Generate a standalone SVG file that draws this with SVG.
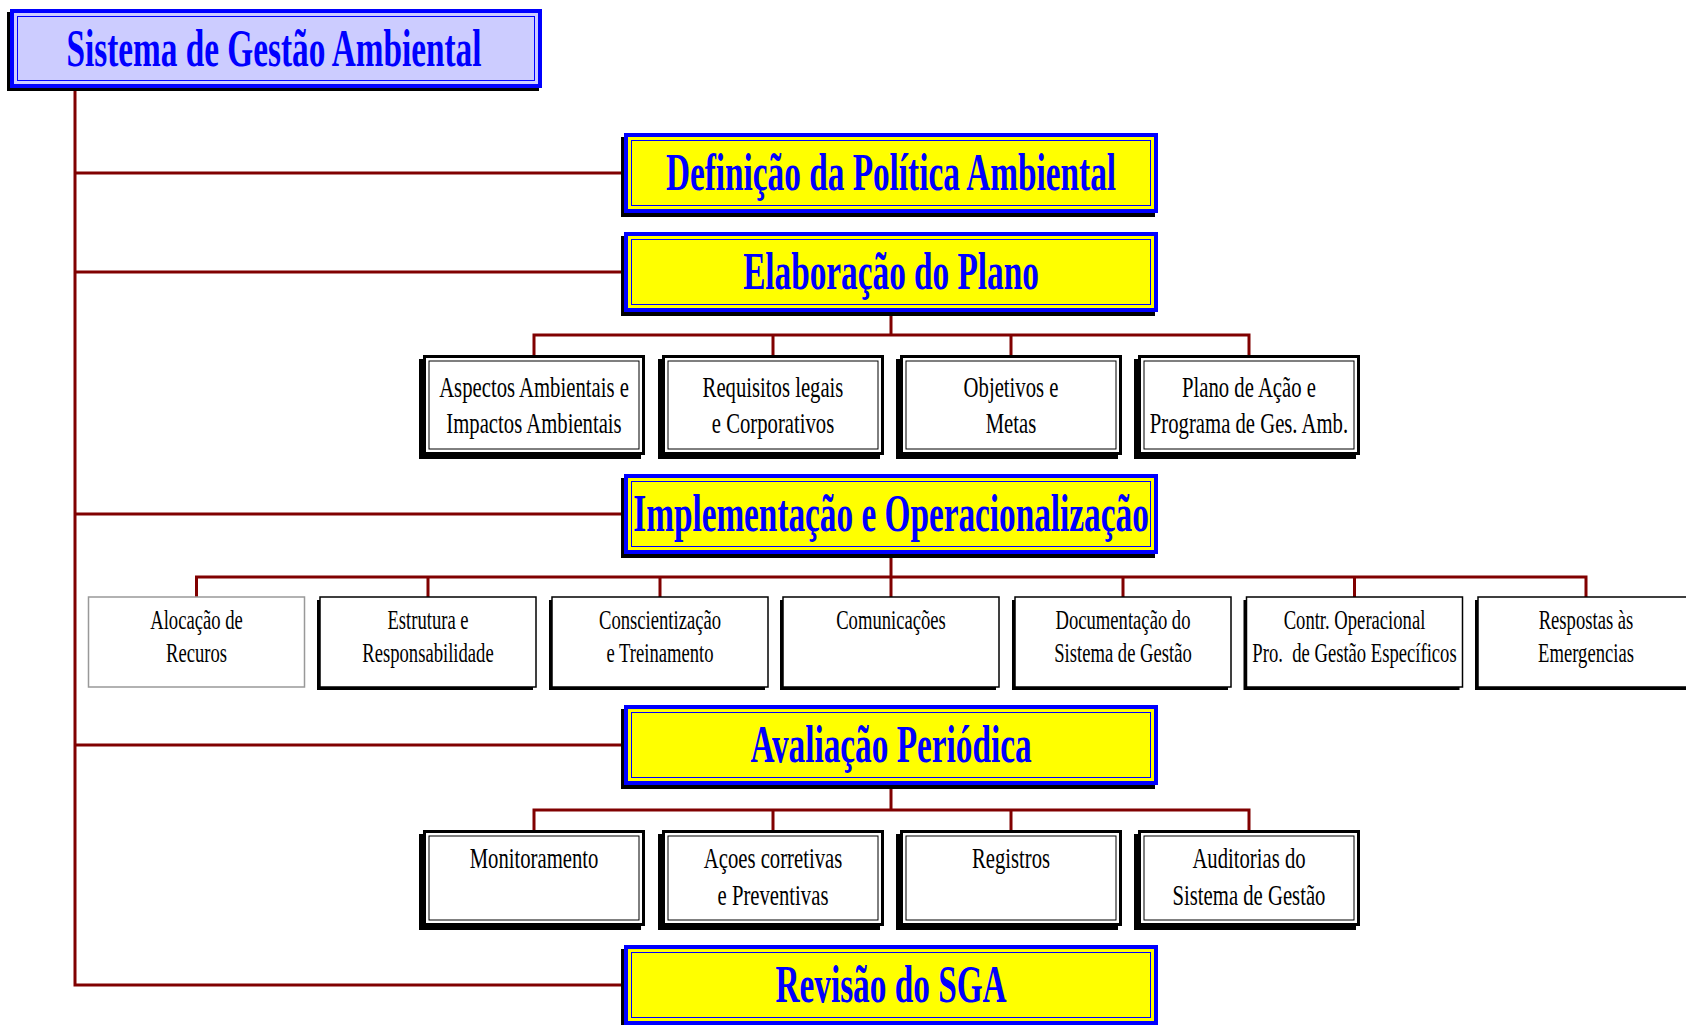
<svg xmlns="http://www.w3.org/2000/svg" width="1686" height="1025" viewBox="0 0 1686 1025">
<style>
.ln{stroke:#800000;stroke-width:3;fill:none}
.sh{fill:#000}
.yb{fill:#FFFF00;stroke:#0000FF;stroke-width:4}
.tb{fill:#CCCCFF;stroke:#0000FF;stroke-width:4}
.bi{fill:none;stroke:#0000FF;stroke-width:1}
.title{font-family:"Liberation Serif","Times New Roman","DejaVu Serif",serif;font-weight:bold;font-size:52px;fill:#0000FF;text-anchor:middle}
.lbl{font-family:"Liberation Serif","Times New Roman","DejaVu Serif",serif;font-size:30px;fill:#000;text-anchor:middle}
.lbl2{font-family:"Liberation Serif","Times New Roman","DejaVu Serif",serif;font-size:27px;fill:#000;text-anchor:middle}
.db{fill:#fff;stroke:#000;stroke-width:3}
.di{fill:none;stroke:#000;stroke-width:1}
.sb{fill:#fff;stroke:#000;stroke-width:1.5}
.gb{fill:#fff;stroke:#999;stroke-width:1.5}
</style>

<!-- connectors -->
<g id="connectors">
  <path class="ln" d="M75 88 V985 H624"/>
  <path class="ln" d="M75 173 H624"/>
  <path class="ln" d="M75 272 H624"/>
  <path class="ln" d="M75 514 H624"/>
  <path class="ln" d="M75 745 H624"/>
  <!-- plan breakdown -->
  <path class="ln" d="M891 312 V335"/>
  <path class="ln" d="M534 355 V335 H1249 V355"/>
  <path class="ln" d="M773 335 V355 M1011 335 V355"/>
  <!-- implementation breakdown -->
  <path class="ln" d="M891 554 V597"/>
  <path class="ln" d="M196.5 597 V577 H1586 V597"/>
  <path class="ln" d="M428 577 V597 M660 577 V597 M1123 577 V597 M1354.5 577 V597"/>
  <!-- evaluation breakdown -->
  <path class="ln" d="M891 785 V810"/>
  <path class="ln" d="M534 830 V810 H1249 V830"/>
  <path class="ln" d="M773 810 V830 M1011 810 V830"/>
</g>

<!-- root -->
<g id="sga">
  <rect class="sh" x="7" y="12" width="532" height="79"/>
  <rect class="tb" x="12" y="11" width="528" height="75"/>
  <rect class="bi" x="17.5" y="16.5" width="517" height="64"/>
  <text class="title" transform="translate(274 66) scale(0.64 1)">Sistema de Gestão Ambiental</text>
</g>

<!-- main stages -->
<g id="politica">
  <rect class="sh" x="621" y="137" width="534" height="80"/>
  <rect class="yb" x="626" y="135" width="530" height="76"/>
  <rect class="bi" x="631.5" y="140.5" width="519" height="65"/>
  <text class="title" transform="translate(891 190) scale(0.64 1)">Definição da Política Ambiental</text>
</g>
<g id="plano">
  <rect class="sh" x="621" y="236" width="534" height="80"/>
  <rect class="yb" x="626" y="234" width="530" height="76"/>
  <rect class="bi" x="631.5" y="239.5" width="519" height="65"/>
  <text class="title" transform="translate(891 289) scale(0.64 1)">Elaboração do Plano</text>
</g>
<g id="implementacao">
  <rect class="sh" x="621" y="478" width="534" height="80"/>
  <rect class="yb" x="626" y="476" width="530" height="76"/>
  <rect class="bi" x="631.5" y="481.5" width="519" height="65"/>
  <text class="title" transform="translate(891 531) scale(0.64 1)">Implementação e Operacionalização</text>
</g>
<g id="avaliacao">
  <rect class="sh" x="621" y="709" width="534" height="80"/>
  <rect class="yb" x="626" y="707" width="530" height="76"/>
  <rect class="bi" x="631.5" y="712.5" width="519" height="65"/>
  <text class="title" transform="translate(891 762) scale(0.64 1)">Avaliação Periódica</text>
</g>
<g id="revisao">
  <rect class="sh" x="621" y="949" width="534" height="80"/>
  <rect class="yb" x="626" y="947" width="530" height="76"/>
  <rect class="bi" x="631.5" y="952.5" width="519" height="65"/>
  <text class="title" transform="translate(891 1002) scale(0.64 1)">Revisão do SGA</text>
</g>

<!-- plan items -->
<g id="aspectos">
  <rect class="sh" x="419" y="359" width="222" height="100"/>
  <rect class="db" x="424.5" y="356.5" width="219" height="97"/>
  <rect class="di" x="429" y="361" width="210" height="88"/>
  <text class="lbl" transform="translate(534 397) scale(0.69 1)">Aspectos Ambientais e</text>
  <text class="lbl" transform="translate(534 433) scale(0.69 1)">Impactos Ambientais</text>
</g>
<g id="requisitos">
  <rect class="sh" x="658" y="359" width="222" height="100"/>
  <rect class="db" x="663.5" y="356.5" width="219" height="97"/>
  <rect class="di" x="668" y="361" width="210" height="88"/>
  <text class="lbl" transform="translate(773 397) scale(0.69 1)">Requisitos legais</text>
  <text class="lbl" transform="translate(773 433) scale(0.69 1)">e Corporativos</text>
</g>
<g id="objetivos">
  <rect class="sh" x="896" y="359" width="222" height="100"/>
  <rect class="db" x="901.5" y="356.5" width="219" height="97"/>
  <rect class="di" x="906" y="361" width="210" height="88"/>
  <text class="lbl" transform="translate(1011 397) scale(0.69 1)">Objetivos e</text>
  <text class="lbl" transform="translate(1011 433) scale(0.69 1)">Metas</text>
</g>
<g id="plano-acao">
  <rect class="sh" x="1134" y="359" width="222" height="100"/>
  <rect class="db" x="1139.5" y="356.5" width="219" height="97"/>
  <rect class="di" x="1144" y="361" width="210" height="88"/>
  <text class="lbl" transform="translate(1249 397) scale(0.69 1)">Plano de Ação e</text>
  <text class="lbl" transform="translate(1249 433) scale(0.69 1)">Programa de Ges. Amb.</text>
</g>

<!-- implementation items -->
<g id="alocacao">
  <rect class="gb" x="88.5" y="597" width="216" height="90"/>
  <text class="lbl2" transform="translate(196.5 629) scale(0.69 1)">Alocação de</text>
  <text class="lbl2" transform="translate(196.5 662) scale(0.69 1)">Recuros</text>
</g>
<g id="estrutura">
  <rect class="sh" x="317" y="600" width="216" height="90"/>
  <rect class="sb" x="320" y="597" width="216" height="90"/>
  <text class="lbl2" transform="translate(428 629) scale(0.69 1)">Estrutura e</text>
  <text class="lbl2" transform="translate(428 662) scale(0.69 1)">Responsabilidade</text>
</g>
<g id="conscientizacao">
  <rect class="sh" x="549" y="600" width="216" height="90"/>
  <rect class="sb" x="552" y="597" width="216" height="90"/>
  <text class="lbl2" transform="translate(660 629) scale(0.69 1)">Conscientização</text>
  <text class="lbl2" transform="translate(660 662) scale(0.69 1)">e Treinamento</text>
</g>
<g id="comunicacoes">
  <rect class="sh" x="780" y="600" width="216" height="90"/>
  <rect class="sb" x="783" y="597" width="216" height="90"/>
  <text class="lbl2" transform="translate(891 629) scale(0.69 1)">Comunicações</text>
</g>
<g id="documentacao">
  <rect class="sh" x="1012" y="600" width="216" height="90"/>
  <rect class="sb" x="1015" y="597" width="216" height="90"/>
  <text class="lbl2" transform="translate(1123 629) scale(0.69 1)">Documentação do</text>
  <text class="lbl2" transform="translate(1123 662) scale(0.69 1)">Sistema de Gestão</text>
</g>
<g id="controle">
  <rect class="sh" x="1243.5" y="600" width="216" height="90"/>
  <rect class="sb" x="1246.5" y="597" width="216" height="90"/>
  <text class="lbl2" transform="translate(1354.5 629) scale(0.69 1)">Contr. Operacional</text>
  <text class="lbl2" transform="translate(1354.5 662) scale(0.69 1)" xml:space="preserve">Pro.  de Gestão Específicos</text>
</g>
<g id="emergencias">
  <rect class="sh" x="1475" y="600" width="216" height="90"/>
  <rect class="sb" x="1478" y="597" width="216" height="90"/>
  <text class="lbl2" transform="translate(1586 629) scale(0.69 1)">Respostas às</text>
  <text class="lbl2" transform="translate(1586 662) scale(0.69 1)">Emergencias</text>
</g>

<!-- evaluation items -->
<g id="monitoramento">
  <rect class="sh" x="419" y="834" width="222" height="96"/>
  <rect class="db" x="424.5" y="831.5" width="219" height="93"/>
  <rect class="di" x="429" y="836" width="210" height="84"/>
  <text class="lbl" transform="translate(534 868) scale(0.69 1)">Monitoramento</text>
</g>
<g id="acoes">
  <rect class="sh" x="658" y="834" width="222" height="96"/>
  <rect class="db" x="663.5" y="831.5" width="219" height="93"/>
  <rect class="di" x="668" y="836" width="210" height="84"/>
  <text class="lbl" transform="translate(773 868) scale(0.69 1)">Açoes corretivas</text>
  <text class="lbl" transform="translate(773 905) scale(0.69 1)">e Preventivas</text>
</g>
<g id="registros">
  <rect class="sh" x="896" y="834" width="222" height="96"/>
  <rect class="db" x="901.5" y="831.5" width="219" height="93"/>
  <rect class="di" x="906" y="836" width="210" height="84"/>
  <text class="lbl" transform="translate(1011 868) scale(0.69 1)">Registros</text>
</g>
<g id="auditorias">
  <rect class="sh" x="1134" y="834" width="222" height="96"/>
  <rect class="db" x="1139.5" y="831.5" width="219" height="93"/>
  <rect class="di" x="1144" y="836" width="210" height="84"/>
  <text class="lbl" transform="translate(1249 868) scale(0.69 1)">Auditorias do</text>
  <text class="lbl" transform="translate(1249 905) scale(0.69 1)">Sistema de Gestão</text>
</g>
</svg>
